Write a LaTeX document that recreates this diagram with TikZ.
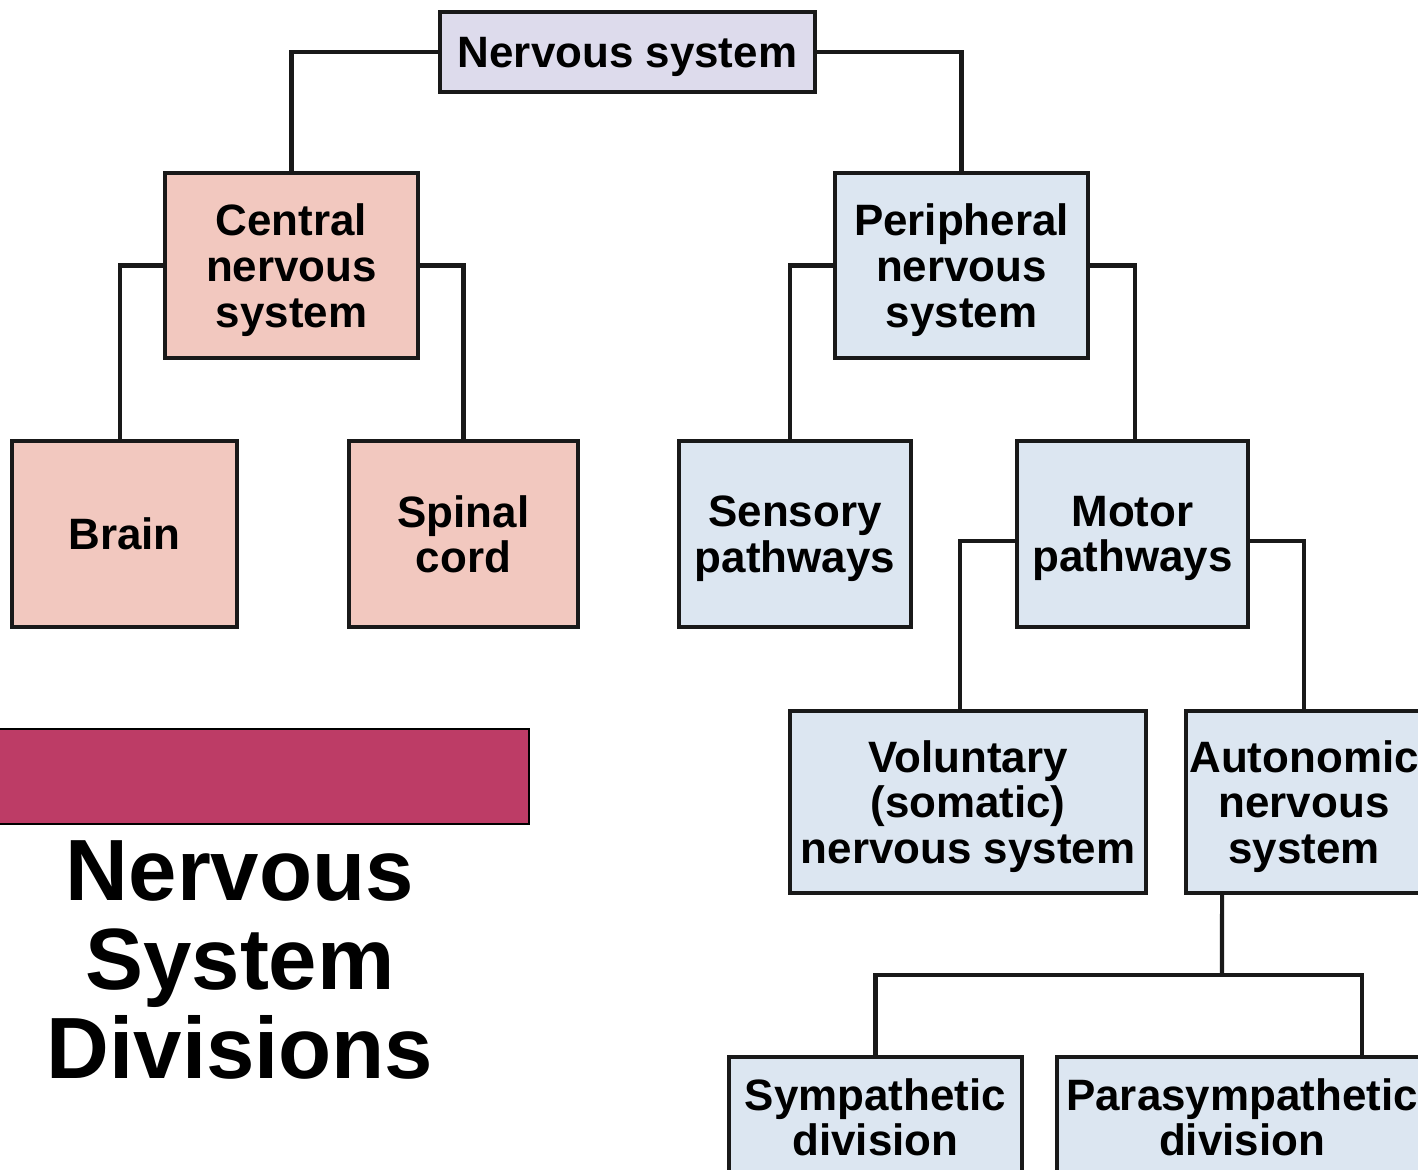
\documentclass[tikz,border=0pt]{standalone}
\usepackage{fontspec}
\setmainfont{Liberation Sans}
\definecolor{nsfill}{HTML}{DDDBEC}
\definecolor{cnsfill}{HTML}{F2C8BF}
\definecolor{pnsfill}{HTML}{DCE6F1}
\definecolor{barred}{HTML}{BD3C66}
\tikzset{
  box/.style={draw=black!90, line width=1.8pt, inner sep=0pt, outer sep=0pt, align=center,
    text depth=0pt, font=\fontsize{25}{26}\selectfont\bfseries},
  nsbox/.style={box, fill=nsfill},
  cnsbox/.style={box, fill=cnsfill},
  pnsbox/.style={box, fill=pnsfill},
  conn/.style={line width=2.3pt, black!90},
  redbar/.style={fill=barred, draw=black, line width=1pt},
  titletext/.style={align=center, inner sep=0pt, font=\fontsize{49.5}{50.7}\selectfont\bfseries}
}
\begin{document}
\begin{tikzpicture}[x=0.02cm,y=-0.02cm]
\useasboundingbox (0,0) rectangle (1418,1170);
\clip (0,0) rectangle (1418,1170);
\fill[white] (0,0) rectangle (1418,1170);

% boxes
\node[nsbox, minimum width=7.5cm, minimum height=1.6cm] (ns) at (627.5,52) {Nervous system};
\node[cnsbox, minimum width=5.06cm, minimum height=3.7cm] (cns) at (291.5,265.5) {Central\\nervous\\system};
\node[pnsbox, minimum width=5.06cm, minimum height=3.7cm] (pns) at (961.5,265.5) {Peripheral\\nervous\\system};
\node[cnsbox, minimum width=4.5cm, minimum height=3.72cm] (brain) at (124.5,534) {Brain};
\node[cnsbox, minimum width=4.58cm, minimum height=3.72cm] (spinal) at (463.5,534) {Spinal\\cord};
\node[pnsbox, minimum width=4.64cm, minimum height=3.72cm] (sens) at (795,534) {Sensory\\pathways};
\node[pnsbox, minimum width=4.62cm, minimum height=3.72cm] (motor) at (1132.5,534) {Motor\\pathways};
\node[pnsbox, minimum width=7.12cm, minimum height=3.64cm] (vol) at (968,802) {Voluntary\\(somatic)\\nervous system};
\node[pnsbox, minimum width=4.72cm, minimum height=3.64cm] (auto) at (1304,802) {Autonomic\\nervous\\system};
\node[pnsbox, minimum width=5.86cm, minimum height=2.4cm] (symp) at (875.5,1117) {Sympathetic\\division};
\node[pnsbox, minimum width=7.4cm, minimum height=2.4cm] (para) at (1242,1117) {Parasympathetic\\division};

% connectors
\draw[conn] (ns.west) -| (cns.north);
\draw[conn] (ns.east) -| (pns.north);
\draw[conn] (cns.west) -| ([xshift=-0.09cm]brain.north);
\draw[conn] (cns.east) -| (spinal.north);
\draw[conn] (pns.west) -| ([xshift=-0.1cm]sens.north);
\draw[conn] (pns.east) -| ([xshift=0.05cm]motor.north);
\draw[conn] ([yshift=-0.14cm]motor.west) -| ([xshift=-0.16cm]vol.north);
\draw[conn] ([yshift=-0.14cm]motor.east) -| (auto.north);
\coordinate (jn) at (1222,975);
\draw[conn] ([xshift=-1.64cm]auto.south) -- (jn);
\draw[conn] (symp.north) |- (jn);
\draw[conn] (jn) -| ([xshift=2.4cm]para.north);

% title block
\draw[redbar] (-5,729) rectangle (529,824);
\node[titletext] (title) at (240,960) {Nervous\\System\\Divisions};
\end{tikzpicture}
\end{document}
